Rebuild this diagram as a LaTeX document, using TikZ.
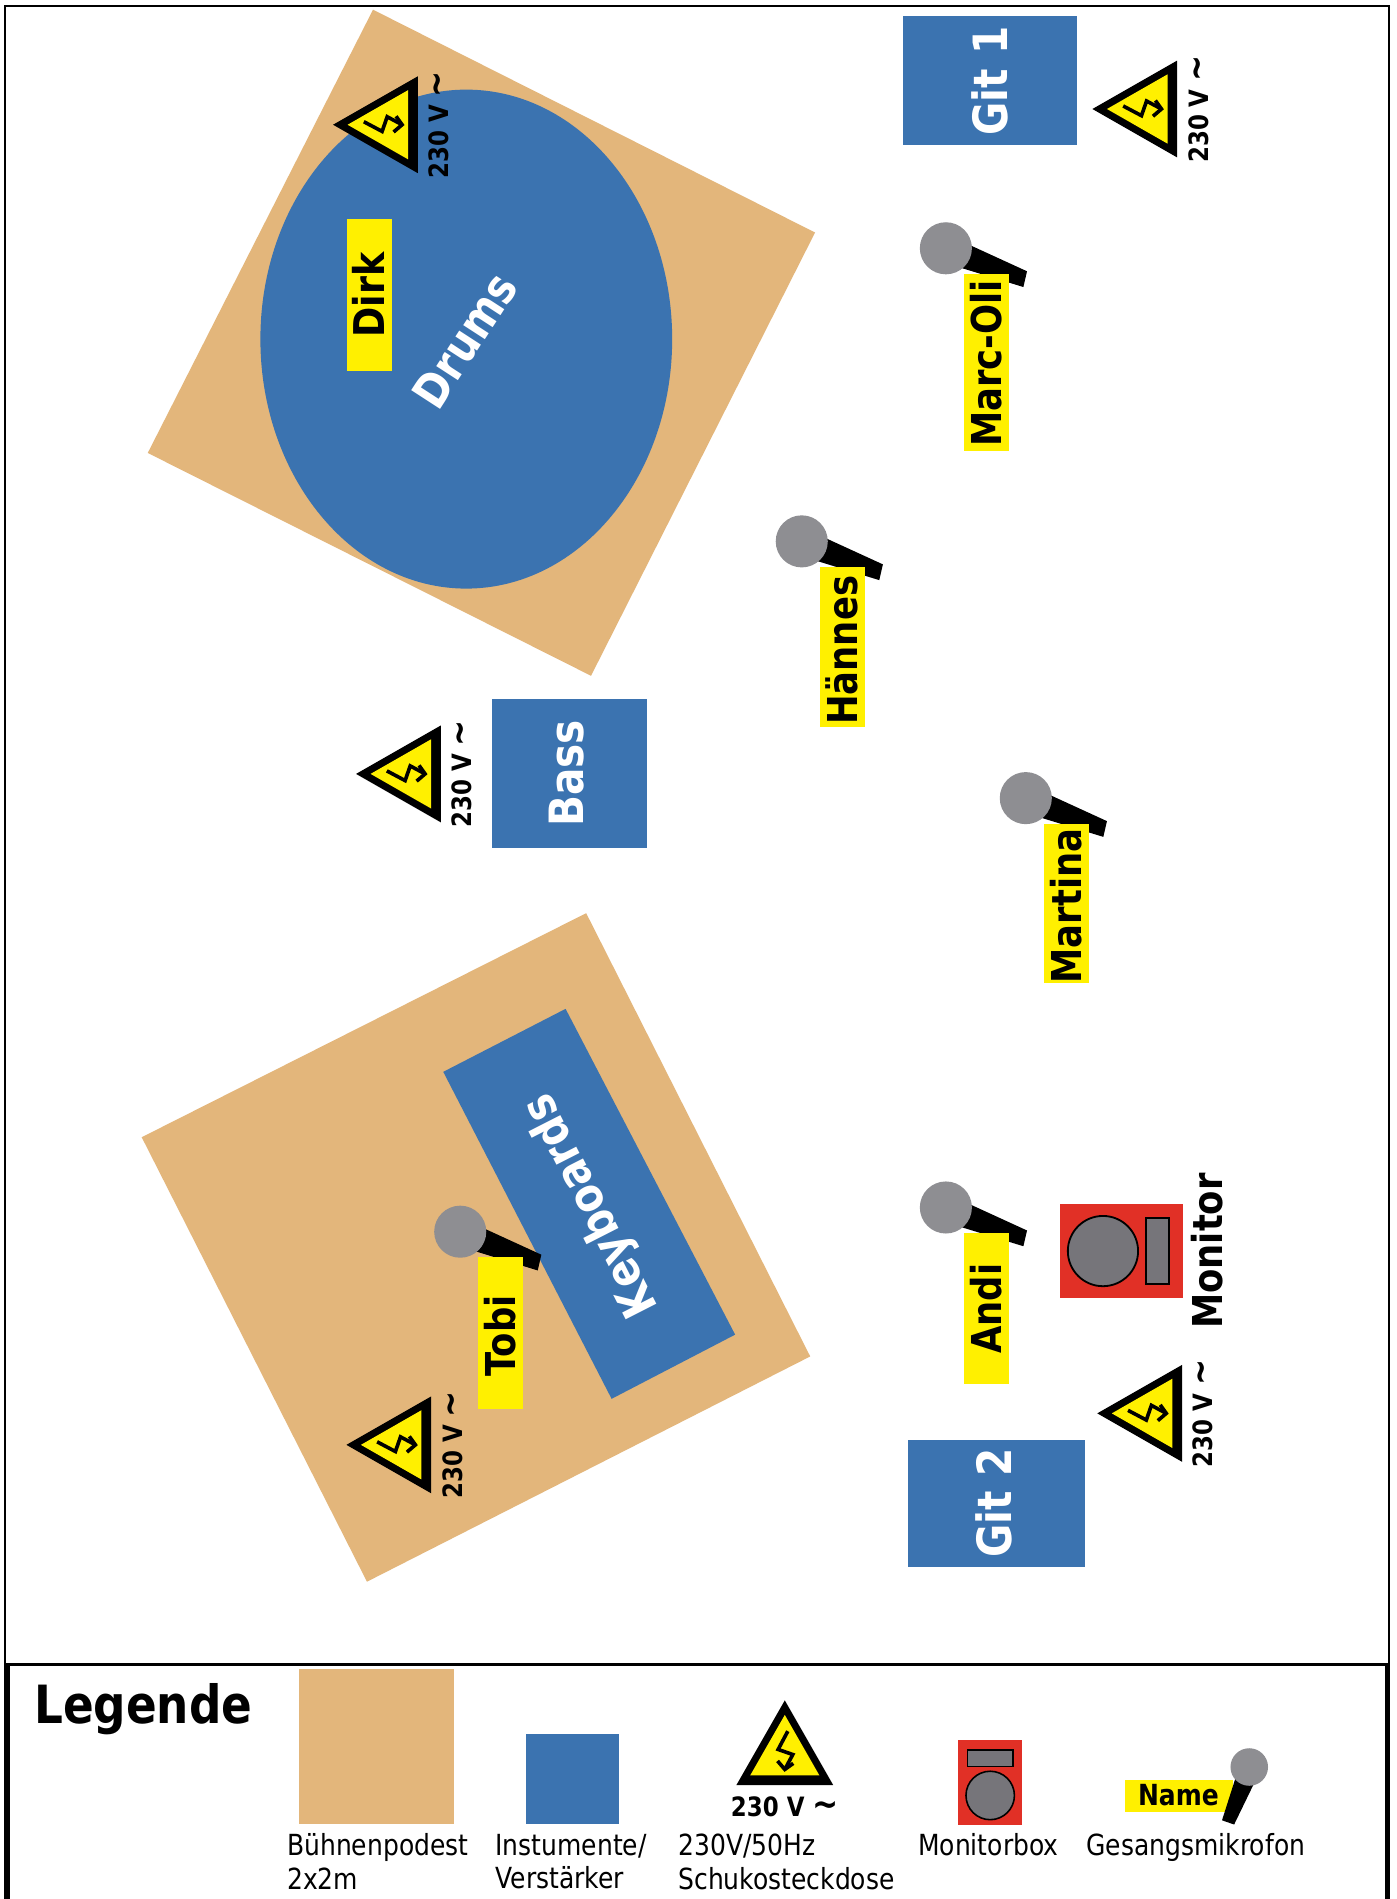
\documentclass[tikz,border=0pt]{standalone}
\usepackage{fontspec}
\setmainfont[FakeStretch=0.86]{DejaVu Sans}
\definecolor{tan}{HTML}{E3B67B}
\definecolor{blau}{HTML}{3B73B0}
\definecolor{gelb}{HTML}{FFF000}
\definecolor{rot}{HTML}{E13026}
\definecolor{grau}{HTML}{76757A}
\definecolor{kopf}{HTML}{8E8E92}
\newcommand{\fs}[1]{\fontsize{#1}{#1}\selectfont}
\tikzset{
  namebox/.style={fill=gelb,text=black,font=\fs{34}\bfseries,rotate=90,inner sep=0pt,minimum height=37pt,text height=26pt,text depth=1pt,align=center},
  instr/.style={text=white,font=\fs{39}\bfseries,inner sep=0pt},
  legtext/.style={font=\fs{24},align=left,inner sep=0pt,anchor=north west},
  warn/.pic={
    \fill[black] (0,-70) -- (40,0) -- (-40,0) -- cycle;
    \fill[gelb] (0,-58) -- (28.6,-8) -- (-28.6,-8) -- cycle;
    \draw[black,line width=3pt,line join=miter] (2.5,-44.6) -- (-5.5,-29.5) -- (6.6,-25.3) -- (0,-13);
    \draw[black,line width=3pt] (-6,-20) -- (0,-13) -- (7,-18);
    \node[font=\fs{22}\bfseries,inner sep=0pt,transform shape,text height=17pt,text depth=0pt] (-label) at (0,17) {230 V {\fs{30}∼}};
  },
  mic/.pic={
    \fill[black] (19,-3) -- (67,19) -- (64,32) -- (12,16) -- cycle;
    \fill[kopf] (0,0) circle (21.5);
  }
}
\begin{document}
\begin{tikzpicture}[x=1pt,y=-1pt]
\useasboundingbox (0,0) rectangle (1153,1568);
\fill[white] (0,0) rectangle (1153,1568);
% frames
\draw[black,line width=1.7pt] (4,5) rectangle (1147,1580);
\draw[black,line width=3pt] (6.5,1374.5) rectangle (1145,1580);
% Drums
\fill[tan] (308,8) -- (673,192) -- (488,558) -- (122,374) -- cycle;
\fill[blau] (385,280) ellipse [x radius=170, y radius=206];
\node[instr,rotate=57] (drums) at (384,281) {Drums};
\node[namebox,minimum width=125pt] (dirk) at (305,243.5) {\fs{35}Dirk};
\pic (w1) at (345,103) [rotate=90] {warn};
% Keyboards
\fill[tan] (484,754) -- (669,1120) -- (303,1306) -- (117,939) -- cycle;
\fill[blau] (467,833) -- (607,1102) -- (505,1155) -- (366,885) -- cycle;
\node[instr,rotate=117] (keys) at (489,995) {Keyboards};
\pic (w4) at (356,1193) [rotate=90] {warn};
\pic (m4) at (380,1017) {mic};
\node[namebox,minimum width=125pt] (tobi) at (413.5,1100.5) {Tobi\hspace*{5pt}};
% Bass
\fill[blau] (406,577) rectangle (534,700);
\node[instr,rotate=90] (bass) at (468,638.5) {Bass};
\pic (w3) at (364,639) [rotate=90] {warn};
% Git 1
\fill[blau] (746,13) rectangle (889,120);
\node[instr,rotate=90] (git1) at (817,67) {Git 1};
\pic (w2) at (972,90) [rotate=90] {warn};
% Git 2
\fill[blau] (750,1189) rectangle (896,1294);
\node[instr,rotate=90] (git2) at (821,1241) {Git 2};
\pic (w5) at (976,1167) [rotate=90] {warn};
% Mics
\pic (m1) at (781,205) {mic};
\node[namebox,minimum width=146pt] (marc) at (814.5,299) {Marc-Oli\hspace*{2pt}};
\pic (m2) at (662,447) {mic};
\node[namebox,minimum width=132pt] (haennes) at (695.5,534) {Hännes\hspace*{6pt}};
\pic (m3) at (847,659) {mic};
\node[namebox,minimum width=132pt] (martina) at (880.5,746) {Martina\hspace*{4pt}};
\pic (m5) at (781,997) {mic};
\node[namebox,minimum width=125pt] (andi) at (814.5,1080.5) {Andi};
% Monitor
\fill[rot] (875,994.5) rectangle (977,1071.5);
\draw[black,fill=grau,line width=1.5pt] (910.7,1033) circle (29);
\draw[black,fill=grau,line width=1.5pt] (946,1006) rectangle (965,1060);
\node[font=\fs{34}\bfseries,rotate=90,inner sep=0pt] (monitor) at (997,1033) {Monitor};
% Legend
\node[font=\fs{43.5}\bfseries,inner sep=0pt,anchor=base west] (legende) at (28,1423) {Legende};
\fill[tan] (247,1378) rectangle (375,1506);
\fill[blau] (434,1432) rectangle (511,1506);
\pic (wl) at (648,1474) {warn};
\fill[rot] (791,1437) rectangle (844,1507);
\draw[black,fill=grau,line width=1.3pt] (799,1445) rectangle (836.5,1458.5);
\draw[black,fill=grau,line width=1.3pt] (817.6,1482.5) circle (20);
\fill[gelb] (929,1470) rectangle (1018,1496);
\node[font=\fs{24}\bfseries,inner sep=0pt] (name) at (973,1482) {Name};
\fill[black] (1020,1468.5) -- (1035,1473.5) -- (1019,1506.5) -- (1009,1503) -- cycle;
\fill[kopf] (1031.5,1459) circle (15.5);
\node[legtext] (l1) at (237,1514) {Bühnenpodest\\[4pt]2x2m};
\node[legtext] (l2) at (409,1514) {Instumente/\\[4pt]Verstärker};
\node[legtext] (l3) at (560,1514) {230V/50Hz\\[4pt]Schukosteckdose};
\node[legtext] (l4) at (758,1514) {Monitorbox};
\node[legtext] (l5) at (897,1514) {Gesangsmikrofon};
\end{tikzpicture}
\end{document}
